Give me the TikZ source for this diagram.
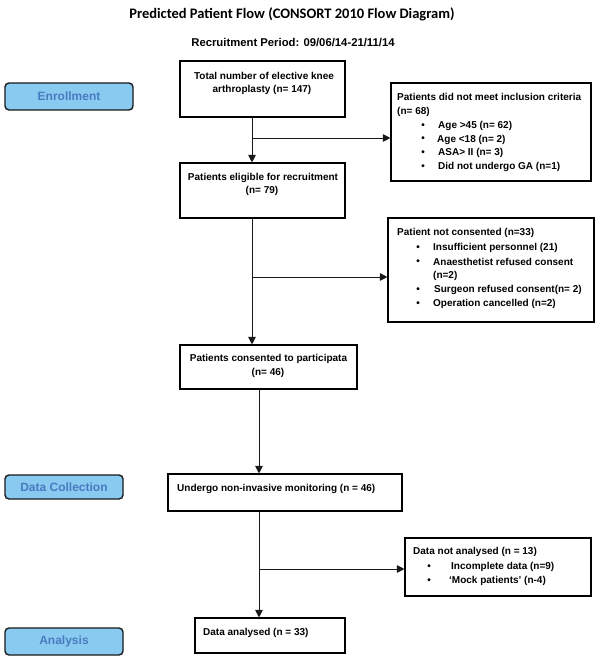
\documentclass[tikz,border=0pt]{standalone}
\usepackage{fontspec}
\setmainfont{Liberation Sans}
\newfontfamily\titlefont{Carlito}
\usetikzlibrary{arrows.meta}
\definecolor{sidefill}{RGB}{137,202,240}
\definecolor{sidetext}{RGB}{72,124,192}
\tikzset{
  flowbox/.style={draw=black, line width=1.1pt, inner sep=0pt, fill=white},
  sidebox/.style={draw=black!90, line width=1.4pt, rounded corners=4pt, fill=sidefill, inner sep=0pt,
    text=sidetext, font=\bfseries\fontsize{12}{14}\selectfont},
  txt/.style={inner sep=0pt, anchor=west, font=\bfseries\fontsize{10}{12}\selectfont},
  ctxt/.style={inner sep=0pt, anchor=center, font=\bfseries\fontsize{10}{12}\selectfont},
  conn/.style={draw=black!90, line width=0.9pt},
  arr/.style={conn, -{Triangle[width=7.5pt,length=7.5pt]}},
}
\begin{document}
\begin{tikzpicture}[x=1pt,y=-1pt]
\useasboundingbox (0,0) rectangle (600,661);
% titles
\node[inner sep=0pt, font=\titlefont\bfseries\fontsize{14.5}{16}\selectfont] (title) at (292,14) {Predicted Patient Flow (CONSORT 2010 Flow Diagram)};
\node[inner sep=0pt, font=\bfseries\fontsize{11.3}{13}\selectfont] (period) at (293,43) {Recruitment Period: 09/06/14-21/11/14};
% side labels
\node[sidebox, minimum width=128pt, minimum height=27pt] (enr) at (69,96.5) {Enrollment};
\node[sidebox, minimum width=118pt, minimum height=24pt] (dc) at (64,487) {Data Collection};
\node[sidebox, minimum width=118pt, minimum height=27pt] (ana) at (64,641.5) {Analysis};
% main boxes
\node[flowbox, minimum width=165pt, minimum height=56pt] (box1) at (262.5,89) {};
\node[flowbox, minimum width=165pt, minimum height=55pt] (elig) at (262.5,190.5) {};
\node[flowbox, minimum width=177pt, minimum height=44pt] (cons) at (268.5,367) {};
\node[flowbox, minimum width=234pt, minimum height=37pt] (undergo) at (285,492.5) {};
\node[flowbox, minimum width=150pt, minimum height=35pt] (analysed) at (270,635.5) {};
% exclusion boxes
\node[flowbox, minimum width=200pt, minimum height=98pt] (ex1) at (491,132) {};
\node[flowbox, minimum width=206pt, minimum height=104pt] (ex2) at (491,270) {};
\node[flowbox, minimum width=186pt, minimum height=58pt] (ex3) at (498,567) {};
% texts main
\node[ctxt] (t1a) at (264,76) {Total number of elective knee};
\node[ctxt] (t1b) at (262,90) {arthroplasty (n= 147)};
\node[ctxt] (t2a) at (263,178) {Patients eligible for recruitment};
\node[ctxt] (t2b) at (262,191) {(n= 79)};
\node[ctxt] (t3a) at (268.5,359) {Patients consented to participata};
\node[ctxt] (t3b) at (268,373) {(n= 46)};
\node[txt] (t4) at (177,489) {Undergo non-invasive monitoring (n = 46)};
\node[txt] (t5) at (203,633) {Data analysed (n = 33)};
% texts ex1
\node[txt] (e1h) at (397,97) {Patients did not meet inclusion criteria};
\node[txt] (e1n) at (397,112) {(n= 68)};
\node[ctxt] (e1b1) at (423,126) {\textbullet};
\node[txt] (e1i1) at (438,126) {Age >45 (n= 62)};
\node[ctxt] (e1b2) at (423,139.5) {\textbullet};
\node[txt] (e1i2) at (437,139.5) {Age <18 (n= 2)};
\node[ctxt] (e1b3) at (423,153) {\textbullet};
\node[txt] (e1i3) at (438,153) {ASA> II (n= 3)};
\node[ctxt] (e1b4) at (423,167) {\textbullet};
\node[txt] (e1i4) at (438,167) {Did not undergo GA (n=1)};
% texts ex2
\node[txt] (e2h) at (397,233) {Patient not consented (n=33)};
\node[ctxt] (e2b1) at (418,248) {\textbullet};
\node[txt] (e2i1) at (433,248) {Insufficient personnel (21)};
\node[ctxt] (e2b2) at (418,262) {\textbullet};
\node[txt] (e2i2) at (433,262) {Anaesthetist refused consent};
\node[txt] (e2i2b) at (433,276) {(n=2)};
\node[ctxt] (e2b3) at (418,290) {\textbullet};
\node[txt] (e2i3) at (434,290) {Surgeon refused consent(n= 2)};
\node[ctxt] (e2b4) at (418,304) {\textbullet};
\node[txt] (e2i4) at (433,304) {Operation cancelled (n=2)};
% texts ex3
\node[txt] (e3h) at (413,552) {Data not analysed (n = 13)};
\node[ctxt] (e3b1) at (429,567) {\textbullet};
\node[txt] (e3i1) at (451,567) {Incomplete data (n=9)};
\node[ctxt] (e3b2) at (429,581) {\textbullet};
\node[txt] (e3i2) at (449,581) {‘Mock patients’ (n-4)};
% connectors
\coordinate (j1) at (252,138);
\coordinate (j2) at (252,277);
\coordinate (j3) at (259,569);
\draw[arr] (box1.south -| j1) -- (elig.north -| j1);
\draw[arr] (j1) -- (ex1.west |- j1);
\draw[arr] (elig.south -| j2) -- (cons.north -| j2);
\draw[arr] (j2) -- (ex2.west |- j2);
\draw[arr] (cons.south -| j3) -- (undergo.north -| j3);
\draw[arr] (undergo.south -| j3) -- (analysed.north -| j3);
\draw[arr] (j3) -- (ex3.west |- j3);
\end{tikzpicture}
\end{document}
